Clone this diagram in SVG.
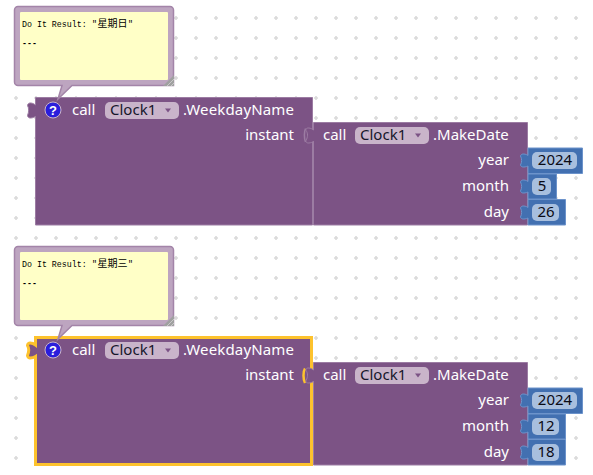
<svg xmlns="http://www.w3.org/2000/svg" width="593" height="475" viewBox="0 0 593 475">
<style>
.lbl{font-family:"Noto Sans","Open Sans","Liberation Sans",sans-serif;font-size:15px;fill:#fff}
.dd{font-family:"Noto Sans","Open Sans","Liberation Sans",sans-serif;font-size:15px;fill:#16162a}
.num{font-family:"Noto Sans","Open Sans","Liberation Sans",sans-serif;font-size:15px;fill:#0a0a14;text-anchor:middle}
.end{text-anchor:end}
.mono{font-family:"Liberation Mono","Noto Sans CJK SC",monospace;font-size:8.300px;fill:#000}
.cjk{font-family:"Noto Sans CJK SC",sans-serif;font-size:10px}
.purple{fill:#7c5385;stroke:#9c7ca3;stroke-width:1}
.blue{fill:#4270b1;stroke:#6c93cb;stroke-width:1}
.field{fill:#a8bfde}
.ddbg{fill:#c9b4ca}
.bubble{fill:#bda5c0;stroke:#a384a8;stroke-width:1.500}
.note{fill:#ffffc7}
.tri{fill:#7c5385}
.hl{fill:none;stroke:#fdc22d;stroke-width:3}
.ask{font-family:"Liberation Sans",sans-serif;font-size:13px;font-weight:bold;fill:#fff;text-anchor:middle}
</style>
<defs>
<pattern id="grid" x="0" y="0" width="20" height="20" patternUnits="userSpaceOnUse">
<path d="M16 16v4M14 18h4" stroke="#dadada" stroke-width="1.600" fill="none"/>
</pattern>
<g id="resize">
<path d="M163 86L174 75V86z" fill="#a0a0a0"/>
<path d="M167 86l7-7M171 86l3-3" stroke="#c8c8c8" stroke-width="1" fill="none"/>
</g>
</defs>
<rect width="593" height="475" fill="#fff"/>
<rect x="0" y="0" width="593" height="470" fill="url(#grid)"/>

<g id="block-top">
<path class="purple" d="M35.500 97.500H312.500V225H35.500V116.500C33 118 31 118 30 118S27.500 117 27.500 115.500C29 112 29 108 27.500 105.500C27.500 104 29 103 30 103S33 103 35.500 105z"/>
<path d="M305.500 128.500c-1.500 3-1.500 10 0 13.500" fill="none" stroke="#9c7ca3" stroke-width="1.500"/>
<circle cx="53" cy="110" r="8" fill="#2a1ddb" stroke="#c9b4ca" stroke-width="1"/>
<text class="ask" x="53" y="115">?</text>
<text class="lbl" x="72" y="115">call</text>
<rect class="ddbg" x="105" y="102" width="74" height="17" rx="5"/>
<text class="dd" x="110" y="115">Clock1</text>
<path class="tri" d="M165 108.500h6l-3 4z"/>
<text class="lbl" x="183" y="115" textLength="111">.WeekdayName</text>
<text class="lbl end" x="294" y="140">instant</text>
</g>
<g id="block-top-date">
<path class="purple" d="M313.500 122.500H527.500V225H313.500V141.500C311 143 309 143 308 143S305.500 142 306 140.500C308 137 308 133 306 130.500C305.500 129 307 128 308 128S311 128 313.500 130z"/>
<text class="lbl" x="323" y="140">call</text>
<rect class="ddbg" x="355" y="127" width="74" height="17" rx="5"/>
<text class="dd" x="360" y="140">Clock1</text>
<path class="tri" d="M415 133.500h6l-3 4z"/>
<text class="lbl" x="433" y="140">.MakeDate</text>
<text class="lbl end" x="509" y="165">year</text>
<text class="lbl end" x="509" y="191">month</text>
<text class="lbl end" x="509" y="217">day</text>
</g>
<g id="num-top-year">
<path class="blue" d="M528 148H582.500V173.500H528V166C526 167 524 167 523 167S520.500 166 520.500 165C522 162 522 159 520.500 156C520.500 155 522 154 523 154S526 154 528 155.500z"/>
<rect class="field" x="532" y="152" width="45" height="17" rx="5"/><text class="num" x="555" y="165">2024</text>
</g>
<g id="num-top-month">
<path class="blue" d="M528 174H556.500V199H528V192C526 193 524 193 523 193S520.500 192 520.500 191C522 188 522 185 520.500 182C520.500 181 522 180 523 180S526 180 528 181.500z"/>
<rect class="field" x="532" y="178" width="19" height="17" rx="5"/><text class="num" x="542" y="191">5</text>
</g>
<g id="num-top-day">
<path class="blue" d="M528 199.500H565.500V225H528V218C526 219 524 219 523 219S520.500 218 520.500 217C522 214 522 211 520.500 208C520.500 207 522 206 523 206S526 206 528 207.500z"/>
<rect class="field" x="532" y="204" width="27" height="17" rx="5"/><text class="num" x="546" y="217">26</text>
</g>
<g id="bubble-top">
<path class="bubble" d="M18 6.500H170a3.500 3.500 0 0 1 3.500 3.500V85.500H72L58 99 62 85.500H18a3.500 3.500 0 0 1-3.500-3.500V10a3.500 3.500 0 0 1 3.500-3.500z"/>
<rect class="note" x="20" y="12" width="148" height="68" rx="1"/>
<use href="#resize"/>
<text class="mono" x="22" y="27">Do It Result:<tspan x="92">"</tspan><tspan class="cjk" x="97.500">星期日</tspan><tspan x="128">"</tspan></text>
<text class="mono" x="22" y="46" font-weight="bold">---</text>
</g>

<g id="block-bottom">
<path d="M35.500 337.500H312.500V465H35.500V356.500C33 358 31 358 30 358S27.500 357 27.500 355.500C29 352 29 348 27.500 345.500C27.500 344 29 343 30 343S33 343 35.500 345z" fill="#7c5385"/>
<path class="hl" d="M35.500 337.500H311.500V464.500H35.500V356.500C33 358 31 358 30 358S27.500 357 27.500 355.500C29 352 29 348 27.500 345.500C27.500 344 29 343 30 343S33 343 35.500 345z"/>
<path d="M305 368.500c-2 3-2 11 0 14.500" fill="none" stroke="#fdc22d" stroke-width="2.500"/>
<circle cx="53" cy="350" r="8" fill="#2a1ddb" stroke="#c9b4ca" stroke-width="1"/>
<text class="ask" x="53" y="355">?</text>
<text class="lbl" x="72" y="355">call</text>
<rect class="ddbg" x="105" y="342" width="74" height="17" rx="5"/>
<text class="dd" x="110" y="355">Clock1</text>
<path class="tri" d="M165 348.500h6l-3 4z"/>
<text class="lbl" x="183" y="355" textLength="111">.WeekdayName</text>
<text class="lbl end" x="294" y="380">instant</text>
</g>
<g id="block-bottom-date">
<path class="purple" d="M313.500 362.500H527.500V465H313.500V381.500C311 383 309 383 308 383S305.500 382 306 380.500C308 377 308 373 306 370.500C305.500 369 307 368 308 368S311 368 313.500 370z"/>
<text class="lbl" x="323" y="380">call</text>
<rect class="ddbg" x="355" y="367" width="74" height="17" rx="5"/>
<text class="dd" x="360" y="380">Clock1</text>
<path class="tri" d="M415 373.500h6l-3 4z"/>
<text class="lbl" x="433" y="380">.MakeDate</text>
<text class="lbl end" x="509" y="405">year</text>
<text class="lbl end" x="509" y="431">month</text>
<text class="lbl end" x="509" y="457">day</text>
</g>
<g id="num-bottom-year">
<path class="blue" d="M528 388H582.500V413.500H528V406C526 407 524 407 523 407S520.500 406 520.500 405C522 402 522 399 520.500 396C520.500 395 522 394 523 394S526 394 528 395.500z"/>
<rect class="field" x="532" y="392" width="45" height="17" rx="5"/><text class="num" x="555" y="405">2024</text>
</g>
<g id="num-bottom-month">
<path class="blue" d="M528 414H565.500V439H528V432C526 433 524 433 523 433S520.500 432 520.500 431C522 428 522 425 520.500 422C520.500 421 522 420 523 420S526 420 528 421.500z"/>
<rect class="field" x="532" y="418" width="27" height="17" rx="5"/><text class="num" x="546" y="431">12</text>
</g>
<g id="num-bottom-day">
<path class="blue" d="M528 439.500H565.500V465H528V458C526 459 524 459 523 459S520.500 458 520.500 457C522 454 522 451 520.500 448C520.500 447 522 446 523 446S526 446 528 447.500z"/>
<rect class="field" x="532" y="444" width="27" height="17" rx="5"/><text class="num" x="546" y="457">18</text>
</g>
<g id="bubble-bottom" transform="translate(0 240)">
<path class="bubble" d="M18 6.500H170a3.500 3.500 0 0 1 3.500 3.500V85.500H72L58 99 62 85.500H18a3.500 3.500 0 0 1-3.500-3.500V10a3.500 3.500 0 0 1 3.500-3.500z"/>
<rect class="note" x="20" y="12" width="148" height="68" rx="1"/>
<use href="#resize"/>
<text class="mono" x="22" y="27">Do It Result:<tspan x="92">"</tspan><tspan class="cjk" x="97.500">星期三</tspan><tspan x="128">"</tspan></text>
<text class="mono" x="22" y="46" font-weight="bold">---</text>
</g>
<g id="connectors"></g>
</svg>
